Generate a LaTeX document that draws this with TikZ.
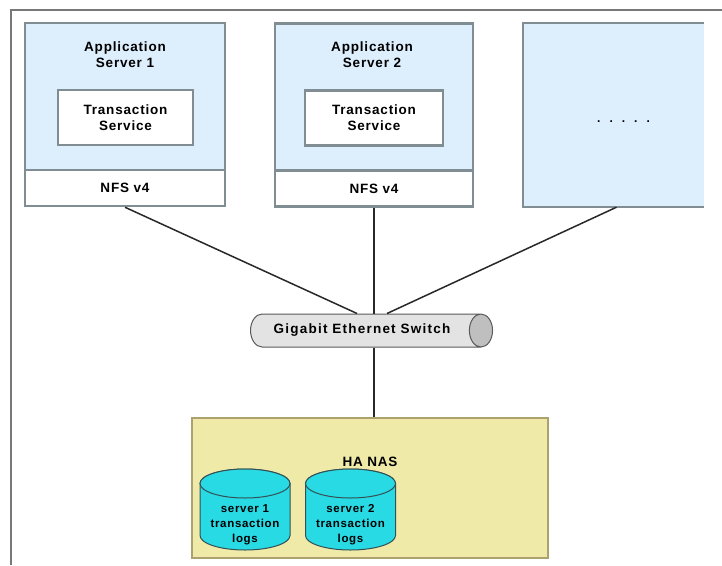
\documentclass[tikz,border=0pt]{standalone}
\usepackage{fontspec}
\usepackage{tikz}
\usetikzlibrary{positioning,shapes.geometric}
\newfontfamily\diagfont[LetterSpace=6]{Liberation Sans}
\newfontfamily\switchfont[LetterSpace=9]{Liberation Sans}
\definecolor{paleblue}{RGB}{221,238,252}
\definecolor{boxgray}{RGB}{128,142,148}
\definecolor{framegray}{RGB}{120,120,120}
\definecolor{nasfill}{RGB}{240,234,168}
\definecolor{nasedge}{RGB}{172,162,112}
\definecolor{diskcyan}{RGB}{40,218,228}
\definecolor{diskedge}{RGB}{50,80,85}
\definecolor{linkgray}{RGB}{40,40,40}
\tikzset{
  txtfont/.style={font=\diagfont\bfseries\fontsize{13.5}{16}\selectfont},
  txt/.style={txtfont, align=center},
  server/.style={draw=boxgray, line width=2.5pt, fill=paleblue, minimum width=#1, minimum height=183pt, inner sep=0pt},
  server/.default=200pt,
  nfsband/.style={txt, draw=boxgray, line width=2.5pt, fill=white, minimum width=#1, minimum height=36pt, inner sep=0pt},
  nfsband/.default=200pt,
  txservice/.style={txt, draw=boxgray, line width=2.5pt, fill=white, minimum width=#1, minimum height=55pt, inner sep=0pt},
  txservice/.default=135pt,
  disk/.style={draw=diskedge, line width=1pt, fill=diskcyan},
  disktxt/.style={font=\diagfont\bfseries\fontsize{11.5}{15}\selectfont, align=center},
  link/.style={draw=linkgray, line width=1.5pt},
}
\begin{document}
\begin{tikzpicture}[x=1pt,y=-1pt]
    \useasboundingbox (0,0) rectangle (722,565);
    \draw[framegray, line width=1.2pt] (11,565) -- (11,10) -- (722,10);

    %% application servers
    \node[server] (app1) at (125,114.5) {};
    \node[nfsband] (nfs1) at (125,188) {NFS v4};
    \node[txservice] (ts1) at (125.5,117.5) {Transaction\\Service};
    \node[txt] at (125,55) {Application\\Server 1};

    \node[server=198pt] (app2) at (374,115) {};
    \node[nfsband=198pt] (nfs2) at (374,188.5) {NFS v4};
    \node[txservice=138pt] (ts2) at (374,118) {Transaction\\Service};
    \node[txt] at (372,55) {Application\\Server 2};

    \node[fill=paleblue, minimum width=181pt, minimum height=184pt, inner sep=0pt] (app3) at (613.5,115) {};
    \draw[boxgray, line width=2.5pt] (app3.north east) -- (app3.north west) -- (app3.south west) -- (app3.south east);
    \node[font=\diagfont\bfseries\fontsize{12}{14}\selectfont] (more) at ([xshift=10pt,yshift=-7pt]app3.center)
        {.\hspace{9pt}.\hspace{9pt}.\hspace{9pt}.\hspace{9pt}.};

    %% switch
    \node[cylinder, draw=black!65, line width=1pt, aspect=1.2,
          cylinder uses custom fill, cylinder body fill=black!11, cylinder end fill=black!25,
          minimum width=33pt, minimum height=242pt, font=\switchfont\bfseries\fontsize{13.5}{16}\selectfont] (switch) at (362,330.5)
          {Gigabit Ethernet Switch};

    \draw[link] (app1.south) -- ([xshift=-5pt]switch.north);
    \draw[link] (app2.south) -- (app2.south |- switch.north);
    \draw[link] ([xshift=3pt]app3.south) -- ([xshift=25pt]switch.north);

    %% storage
    \node[draw=nasedge, line width=2.5pt, fill=nasfill, minimum width=356pt, minimum height=140pt] (nas) at (370,488) {};
    \node[txt] (nastitle) at (370,462) {HA NAS};
    \draw[link] (app2.south |- switch.south) -- (app2.south |- nas.north);

    %% disks
    \filldraw[disk] (200,483.5) -- (200,535.5) arc[start angle=180, end angle=360, x radius=45pt, y radius=14.5pt]
        -- (290,483.5) arc[start angle=0, end angle=180, x radius=45pt, y radius=14.5pt] -- cycle;
    \draw[disk] (245,483.5) ellipse[x radius=45pt, y radius=14.5pt];
    \filldraw[disk] (305.5,483.5) -- (305.5,535.5) arc[start angle=180, end angle=360, x radius=45pt, y radius=14.5pt]
        -- (395.5,483.5) arc[start angle=0, end angle=180, x radius=45pt, y radius=14.5pt] -- cycle;
    \draw[disk] (350.5,483.5) ellipse[x radius=45pt, y radius=14.5pt];
    \node[disktxt] (log1) at (245,525) {server 1\\transaction\\logs};
    \node[disktxt] (log2) at (350.5,525) {server 2\\transaction\\logs};
\end{tikzpicture}
\end{document}
